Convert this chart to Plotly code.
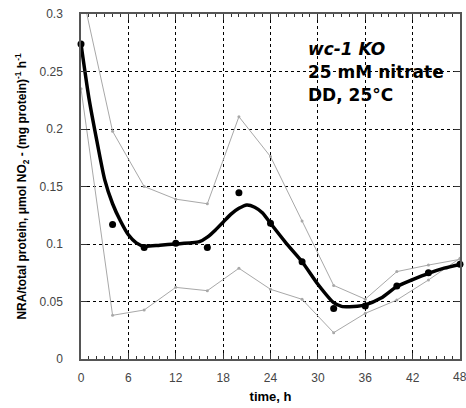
import plotly.graph_objects as go

# measured data points (every 4 h)
t_pts = [0, 4, 8, 12, 16, 20, 24, 28, 32, 36, 40, 44, 48]
nra_mean = [0.274, 0.117, 0.097, 0.1006, 0.097, 0.1446, 0.118, 0.0846, 0.044, 0.046, 0.0635, 0.075, 0.0823]
nra_upper = [0.323, 0.198, 0.150, 0.139, 0.135, 0.2107, 0.176, 0.120, 0.064, 0.052, 0.076, 0.0817, 0.0867]
nra_lower = [0.235, 0.038, 0.0426, 0.0623, 0.0594, 0.0789, 0.0606, 0.0519, 0.0229, 0.0397, 0.0513, 0.0687, 0.0876]

# smoothed fit curve
t_fit = [0, 1, 2, 3, 4, 5, 6, 7, 8, 10, 12, 14, 15, 16, 17, 18, 19, 20, 21, 22, 23, 24, 26, 28,
         30, 32, 33, 34, 35, 36, 38, 40, 42, 44, 46, 48]
nra_fit = [0.274, 0.227, 0.19, 0.156, 0.135, 0.12, 0.108, 0.101, 0.098, 0.099, 0.100, 0.101, 0.102,
           0.106, 0.112, 0.119, 0.126, 0.131, 0.134, 0.132, 0.127, 0.118, 0.1006, 0.0846,
           0.065, 0.049, 0.0458, 0.0455, 0.0458, 0.047, 0.053, 0.063, 0.069, 0.0745, 0.079, 0.0823]

x_ticks = [0, 6, 12, 18, 24, 30, 36, 42, 48]
x_tick_labels = ["0", "6", "12", "18", "24", "30", "36", "42", ""]
last_x_label = "48"
y_ticks = [0, 0.05, 0.1, 0.15, 0.2, 0.25, 0.3]
y_tick_labels = ["0", "0.05", "0.1", "0.15", "0.2", "0.25", "0.3"]
notes = ["<i>wc-1 KO</i>", "25 mM nitrate", "DD, 25°C"]

tick_font = dict(family="Liberation Sans, Arial, sans-serif", size=12, color="#444444")

fig = go.Figure()
gray = "#a8a8a8"
fig.add_trace(go.Scatter(x=t_pts, y=nra_upper, mode="lines+markers",
                         line=dict(color=gray, width=1), marker=dict(color=gray, size=3),
                         showlegend=False))
fig.add_trace(go.Scatter(x=t_pts, y=nra_lower, mode="lines+markers",
                         line=dict(color=gray, width=1), marker=dict(color=gray, size=3),
                         showlegend=False))
fig.add_trace(go.Scatter(x=t_fit, y=nra_fit, mode="lines",
                         line=dict(color="black", width=3.5, shape="spline", smoothing=0.6),
                         showlegend=False))
fig.add_trace(go.Scatter(x=t_pts, y=nra_mean, mode="markers",
                         marker=dict(color="black", size=7), showlegend=False, cliponaxis=False))

axis_common = dict(showline=True, linecolor="#555555", linewidth=1.5, mirror="ticks",
                   showgrid=True, gridcolor="black", griddash="dot", gridwidth=1,
                   ticks="inside", tickcolor="#333333", zeroline=False, tickfont=tick_font)

fig.update_xaxes(range=[0, 48], tickvals=x_ticks, ticktext=x_tick_labels, ticklen=6,
                 minor=dict(dtick=1, ticks="inside", ticklen=3, tickcolor="#333333", showgrid=False),
                 title=dict(text="<b>time, h</b>", font=dict(family="Liberation Sans, Arial", size=13, color="black"),
                            standoff=8),
                 ticklabelstandoff=7, **axis_common)
fig.update_yaxes(range=[0, 0.3], tickvals=y_ticks, ticktext=y_tick_labels, ticklen=6,
                 title=dict(text="<b>NRA/total protein, μmol NO<sub>2</sub> - (mg protein)<sup>-1</sup> h<sup>-1</sup></b>",
                            font=dict(family="Liberation Sans, Arial", size=12, color="black"), standoff=10),
                 ticklabelstandoff=14, **axis_common)

fig.add_annotation(x=48, y=0, xref="x", yref="y", text=last_x_label, showarrow=False,
                   xanchor="center", yanchor="middle", yshift=-18, font=tick_font)

ys = [0.2700, 0.2500, 0.2300]
for txt, yy in zip(notes, ys):
    fig.add_annotation(x=28.5, y=yy, xref="x", yref="y", text="<b>" + txt + "</b>", showarrow=False,
                       xanchor="left", yanchor="middle",
                       font=dict(family="DejaVu Sans", size=17, color="black"))

fig.update_layout(width=466, height=408, margin=dict(l=81, r=4, t=14, b=49),
                  paper_bgcolor="white", plot_bgcolor="white")
fig.write_html("out.html")
